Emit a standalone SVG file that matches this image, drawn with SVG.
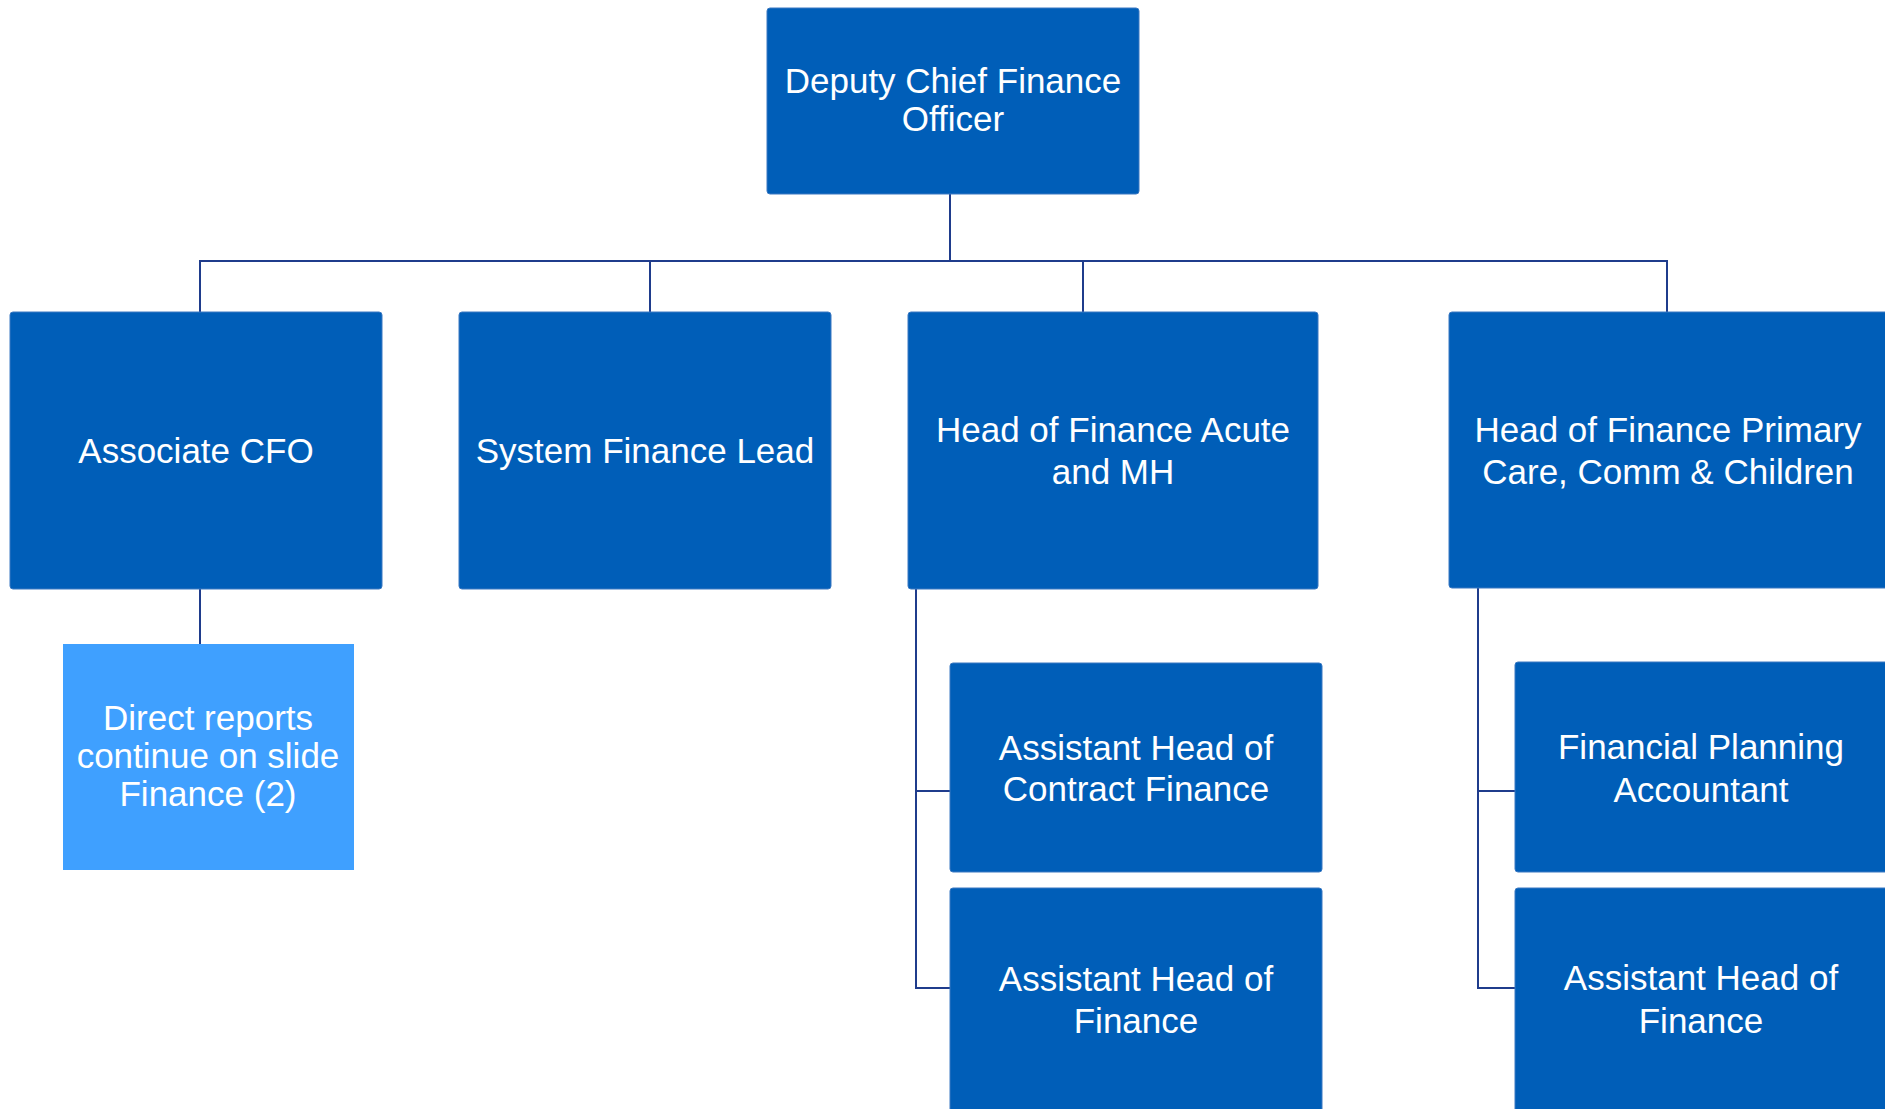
<svg xmlns="http://www.w3.org/2000/svg" width="1885" height="1109" viewBox="0 0 1885 1109">
<style>
.box{fill:#005EB8;stroke:#3A78C2;stroke-width:1}
.lbox{fill:#3FA0FF}
.t{font-family:"Liberation Sans",Arial,sans-serif;font-size:35px;fill:#FFFFFF;text-anchor:middle}
.c{fill:none;stroke:#1F3C8C;stroke-width:2}
</style>
<rect width="1885" height="1109" fill="#FFFFFF"/>
<g id="connectors">
<path class="c" d="M950,194 V261"/>
<path class="c" d="M200,312 V261 H1667 V312"/>
<path class="c" d="M650,261 V312"/>
<path class="c" d="M1083,261 V312"/>
<path class="c" d="M200,589 V644"/>
<path class="c" d="M916,589 V988 H950"/>
<path class="c" d="M916,791 H950"/>
<path class="c" d="M1478,588 V988 H1515"/>
<path class="c" d="M1478,791 H1515"/>
</g>
<g id="dcfo">
<rect class="box" x="767" y="8" width="372" height="186" rx="3"/>
<text class="t" x="953" y="93">Deputy Chief Finance</text>
<text class="t" x="953" y="131">Officer</text>
</g>
<g id="associate-cfo">
<rect class="box" x="10" y="312" width="372" height="277" rx="3"/>
<text class="t" x="196" y="463">Associate CFO</text>
</g>
<g id="system-finance-lead">
<rect class="box" x="459" y="312" width="372" height="277" rx="3"/>
<text class="t" x="645" y="463">System Finance Lead</text>
</g>
<g id="hof-acute">
<rect class="box" x="908" y="312" width="410" height="277" rx="3"/>
<text class="t" x="1113" y="442">Head of Finance Acute</text>
<text class="t" x="1113" y="484">and MH</text>
</g>
<g id="hof-primary">
<rect class="box" x="1449" y="312" width="440" height="276" rx="3"/>
<text class="t" x="1668" y="442">Head of Finance Primary</text>
<text class="t" x="1668" y="484">Care, Comm &amp; Children</text>
</g>
<g id="direct-reports">
<rect class="lbox" x="63" y="644" width="291" height="226"/>
<text class="t" x="208" y="730">Direct reports</text>
<text class="t" x="208" y="768">continue on slide</text>
<text class="t" x="208" y="806">Finance (2)</text>
</g>
<g id="ah-contract">
<rect class="box" x="950" y="663" width="372" height="209" rx="3"/>
<text class="t" x="1136" y="760">Assistant Head of</text>
<text class="t" x="1136" y="801">Contract Finance</text>
</g>
<g id="ah-finance-1">
<rect class="box" x="950" y="888" width="372" height="230" rx="3"/>
<text class="t" x="1136" y="991">Assistant Head of</text>
<text class="t" x="1136" y="1033">Finance</text>
</g>
<g id="fpa">
<rect class="box" x="1515" y="662" width="374" height="210" rx="3"/>
<text class="t" x="1701" y="759">Financial Planning</text>
<text class="t" x="1701" y="802">Accountant</text>
</g>
<g id="ah-finance-2">
<rect class="box" x="1515" y="888" width="374" height="230" rx="3"/>
<text class="t" x="1701" y="990">Assistant Head of</text>
<text class="t" x="1701" y="1033">Finance</text>
</g>
</svg>
